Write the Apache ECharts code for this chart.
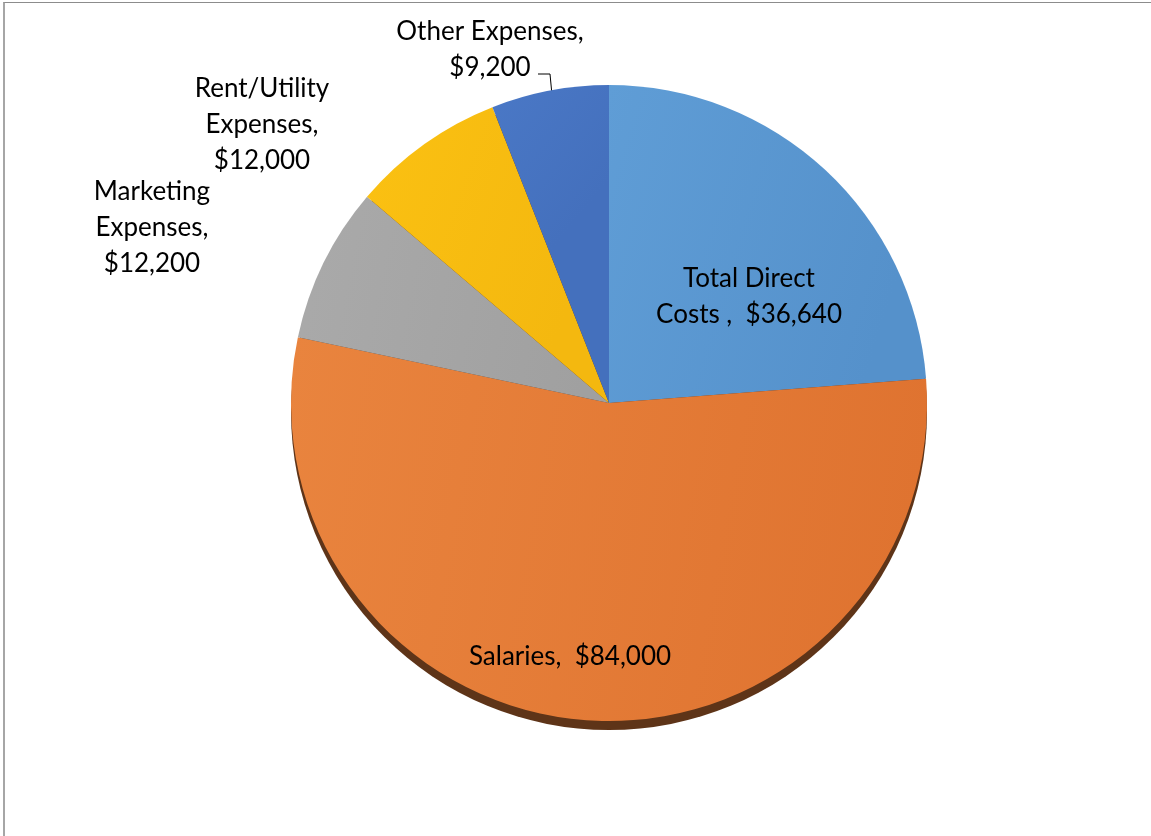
<!DOCTYPE html>
<html>
<head>
<meta charset="utf-8">
<script src="https://cdn.jsdelivr.net/npm/echarts@6/dist/echarts.min.js"></script>
<style>
html,body{margin:0;padding:0;background:#fff;}
#frame{position:absolute;left:3px;top:2px;width:1200px;height:900px;border-left:2px solid #a6a6a6;border-top:1px solid #8c8c8c;}
#chart{position:absolute;left:0;top:0;width:1151px;height:836px;}
</style>
</head>
<body>
<div id="frame"></div>
<div id="chart"></div>
<script>
const categories = ['Total Direct Costs ', 'Salaries', 'Marketing Expenses', 'Rent/Utility Expenses', 'Other Expenses'];
const values = [36640, 84000, 12200, 12000, 9200];
const labelTexts = ['Total Direct\nCosts ,  $36,640', 'Salaries,  $84,000', 'Marketing\nExpenses,\n$12,200', 'Rent/Utility\nExpenses,\n$12,000', 'Other Expenses,\n$9,200'];

// label placement (layout only)
const labelCenters = [[749, 297], [570, 657], [152, 228], [262, 125], [490, 50]];
const otherLeader = [[552, 95], [550, 74], [538, 74]];

const colors = [
  ['#5f9dd6', '#5591cb'],
  ['#e9843e', '#df7330'],
  ['#aaaaaa', '#a0a0a0'],
  ['#fbc112', '#f4b80f'],
  ['#4a78c6', '#4470bd']
];

const grad = (c) => ({type:'linear', x:0, y:0, x2:1, y2:0.3, colorStops:[{offset:0,color:c[0]},{offset:1,color:c[1]}]});
const total = values.reduce((a,b)=>a+b,0);

const chart = echarts.init(document.getElementById('chart'), null, {renderer:'canvas'});
chart.setOption({
  animation:false,
  series:[
    {
      type:'pie', silent:true, z:1,
      center:[609, 412], radius:318, startAngle:90,
      label:{show:false}, labelLine:{show:false},
      data:[{value: total, itemStyle:{color:'#5e3418'}}]
    },
    {
      type:'pie', z:2,
      center:[609, 403], radius:318, startAngle:90, clockwise:true,
      avoidLabelOverlap:false,
      itemStyle:{borderWidth:0},
      label:{
        fontFamily:'Lato', fontSize:26, color:'#000', lineHeight:36, align:'center', verticalAlign:'middle'
      },
      labelLine:{show:false},
      labelLayout: function (p) {
        const c = labelCenters[p.dataIndex];
        const out = {x: c[0], y: c[1], align:'center', verticalAlign:'middle', hideOverlap:false, moveOverlap:null};
        if (p.dataIndex === 4) out.labelLinePoints = otherLeader;
        return out;
      },
      data: categories.map((c,i)=>({
        name:c, value:values[i],
        itemStyle:{color:grad(colors[i])},
        label:{
          position: i < 2 ? 'inside' : 'outside',
          formatter: labelTexts[i]
        },
        labelLine:{show: i===4, length:14, length2:10, lineStyle:{color:'#000', width:1}}
      }))
    }
  ]
});
</script>
</body>
</html>
